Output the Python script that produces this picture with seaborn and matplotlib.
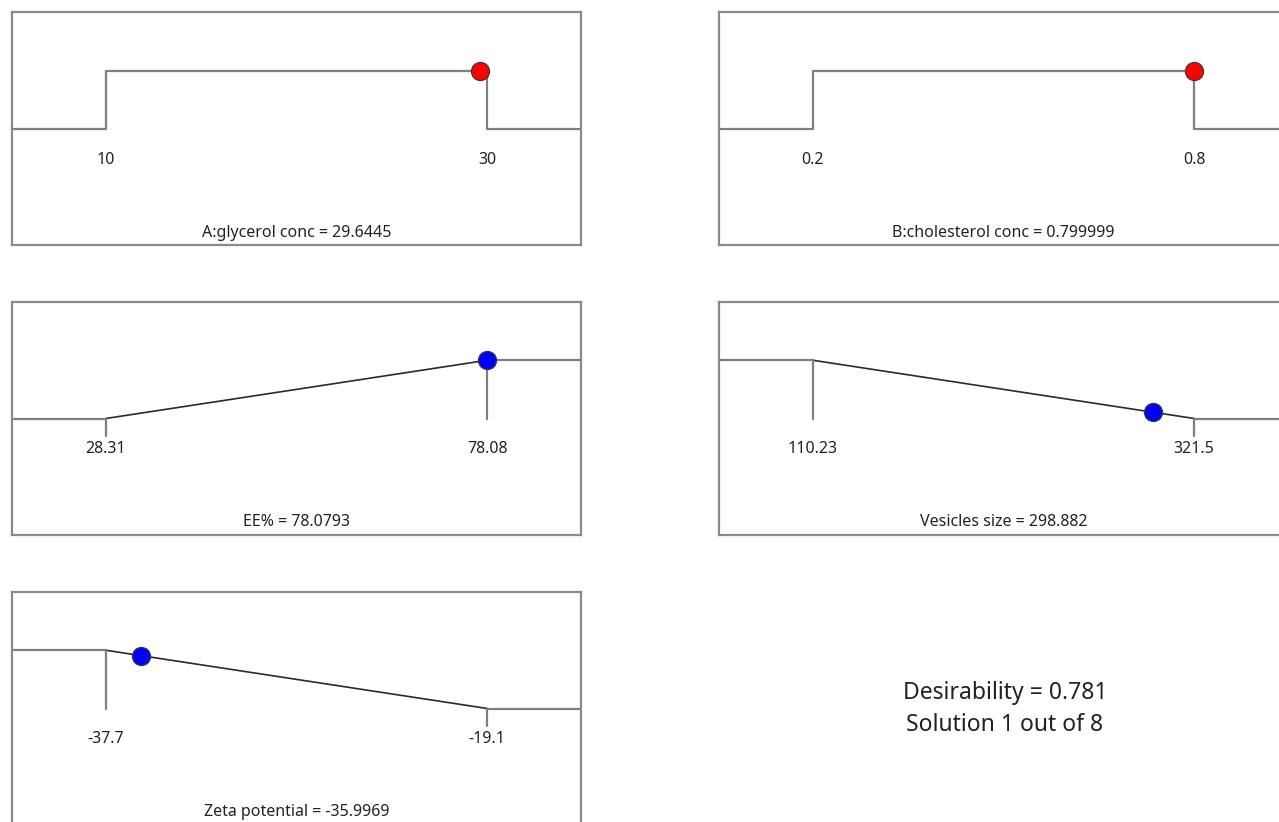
import numpy as np
import pandas as pd
import matplotlib
matplotlib.use("Agg")
import matplotlib.pyplot as plt
import seaborn as sns

# Factors (ranges and optimum settings)
factor_names = ["A:glycerol conc", "B:cholesterol conc"]
factor_low = [10, 0.2]
factor_high = [30, 0.8]
factor_low_labels = ["10", "0.2"]
factor_high_labels = ["30", "0.8"]
factor_values = [29.6445, 0.799999]
factor_value_labels = ["29.6445", "0.799999"]

# Responses (limits, goals and predicted values)
response_names = ["EE%", "Vesicles size", "Zeta potential"]
response_low = [28.31, 110.23, -37.7]
response_high = [78.08, 321.5, -19.1]
response_low_labels = ["28.31", "110.23", "-37.7"]
response_high_labels = ["78.08", "321.5", "-19.1"]
response_goals = ["maximize", "minimize", "minimize"]
response_values = [78.0793, 298.882, -35.9969]
response_value_labels = ["78.0793", "298.882", "-35.9969"]

desirability = 0.781
solution_index = 1
solution_count = 8

sns.set_style("white")
plt.rcParams["font.family"] = ["Noto Sans", "DejaVu Sans"]

W, H = 1279, 822
fig = plt.figure(figsize=(W / 100, H / 100), dpi=100)

FRAME = "#8a8a8a"
STEP = "#7f7f7f"
RAMP = "#2a2a2a"
TXT = "#222222"
Y0, Y1 = 0.5, 0.75          # vertical positions of d = 0 and d = 1
MARGIN = 0.246
FS = 11.5


def dlevel(d):
    return Y0 + (Y1 - Y0) * d


def make_axes(col, row):
    left = 12 / W if col == 0 else 719 / W
    tops = [12.5, 302, 592]
    hpx = 233
    bottom = 1 - (tops[row] + hpx) / H
    ax = fig.add_axes([left, bottom, 569 / W, hpx / H])
    ax.set_ylim(0, 1)
    ax.set_xticks([])
    ax.set_yticks([])
    for sp in ax.spines.values():
        sp.set_color(FRAME)
        sp.set_linewidth(1.6)
    return ax


def draw_path(ax, xs, ys, color, lw):
    df = pd.DataFrame({"x": xs, "y": ys})
    sns.lineplot(data=df, x="x", y="y", ax=ax, sort=False, estimator=None,
                 color=color, linewidth=lw, legend=False)


def finish(ax, lo, hi, lo_lab, hi_lab, title):
    ax.set_xlabel("")
    ax.set_ylabel("")
    ax.text(lo, 0.368, lo_lab, ha="center", va="center", fontsize=FS, color=TXT)
    ax.text(hi, 0.368, hi_lab, ha="center", va="center", fontsize=FS, color=TXT)
    ax.text(0.5, 0.055, title, transform=ax.transAxes, ha="center",
            va="center", fontsize=FS, color=TXT)


def marker(ax, x, y, color):
    sns.scatterplot(x=[x], y=[y], ax=ax, color=color, s=170,
                    edgecolor="#3a3a3a", linewidth=0.9, zorder=5, legend=False)


# Factor panels: in-range step
for i in range(2):
    ax = make_axes(i, 0)
    lo, hi = factor_low[i], factor_high[i]
    span = hi - lo
    xmin, xmax = lo - MARGIN * span, hi + MARGIN * span
    ax.set_xlim(xmin, xmax)
    draw_path(ax, [xmin, lo, lo, hi, hi, xmax],
              [Y0, Y0, Y1, Y1, Y0, Y0], STEP, 1.6)
    marker(ax, factor_values[i], Y1, "#ff0000")
    ax.set_xlim(xmin, xmax)
    ax.set_ylim(0, 1)
    finish(ax, lo, hi, factor_low_labels[i], factor_high_labels[i],
           f"{factor_names[i]} = {factor_value_labels[i]}")

# Response panels: desirability ramps
positions = [(0, 1), (1, 1), (0, 2)]
for i in range(3):
    col, row = positions[i]
    ax = make_axes(col, row)
    lo, hi = response_low[i], response_high[i]
    span = hi - lo
    xmin, xmax = lo - MARGIN * span, hi + MARGIN * span
    ax.set_xlim(xmin, xmax)
    v = response_values[i]
    if response_goals[i] == "maximize":
        d_lo, d_hi = 0.0, 1.0
        d = np.clip((v - lo) / span, 0, 1)
    else:
        d_lo, d_hi = 1.0, 0.0
        d = np.clip((hi - v) / span, 0, 1)
    # flat parts outside the limits
    draw_path(ax, [xmin, lo], [dlevel(d_lo), dlevel(d_lo)], STEP, 1.6)
    draw_path(ax, [hi, xmax], [dlevel(d_hi), dlevel(d_hi)], STEP, 1.6)
    # linear ramp between the limits
    draw_path(ax, [lo, hi], [dlevel(d_lo), dlevel(d_hi)], RAMP, 1.2)
    # limit ticks
    for x, dv in ((lo, d_lo), (hi, d_hi)):
        if dv == 1.0:
            draw_path(ax, [x, x], [Y1, Y0], STEP, 1.6)
        else:
            draw_path(ax, [x, x], [Y0, Y0 - 0.077], STEP, 1.6)
    marker(ax, v, dlevel(d), "#0000ff")
    ax.set_xlim(xmin, xmax)
    ax.set_ylim(0, 1)
    finish(ax, lo, hi, response_low_labels[i], response_high_labels[i],
           f"{response_names[i]} = {response_value_labels[i]}")

fig.text(1005 / W, 1 - 693 / H, f"Desirability = {desirability:.3f}",
         ha="center", va="center", fontsize=16.5, color=TXT)
fig.text(1005 / W, 1 - 725 / H, f"Solution {solution_index} out of {solution_count}",
         ha="center", va="center", fontsize=16.5, color=TXT)

fig.savefig("out.png", dpi=100, facecolor="white")
